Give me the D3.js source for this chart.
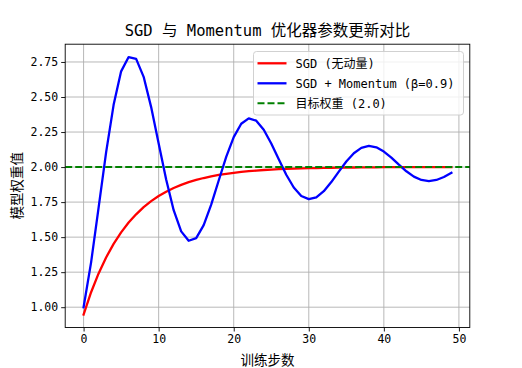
<!DOCTYPE html>
<html>
<head>
<meta charset="utf-8">
<script src="https://cdn.jsdelivr.net/npm/d3@7"></script>
<style>
    body { margin: 0; background: #fff; }
    text { font-family: "DejaVu Sans Mono", "Noto Sans CJK SC", sans-serif; fill: #000; }
</style>
</head>
<body>
<div id="chart"></div>
<script>
// values
var sgdValues = [0.947, 1.107, 1.241, 1.355, 1.452, 1.534, 1.604, 1.663, 1.714, 1.757,
    1.793, 1.824, 1.851, 1.873, 1.892, 1.908, 1.922, 1.934, 1.944, 1.952,
    1.959, 1.965, 1.971, 1.975, 1.979, 1.982, 1.985, 1.987, 1.989, 1.991,
    1.992, 1.993, 1.994, 1.995, 1.996, 1.997, 1.997, 1.998, 1.998, 1.998,
    1.999, 1.999, 1.999, 1.999, 1.999, 2.000, 2.000, 2.000, 2.000, 2.000];
var momentumValues = [1.000, 1.320, 1.710, 2.105, 2.444, 2.683, 2.785, 2.772, 2.644, 2.428,
    2.169, 1.911, 1.692, 1.541, 1.474, 1.493, 1.586, 1.732, 1.904, 2.073,
    2.214, 2.309, 2.348, 2.331, 2.266, 2.168, 2.055, 1.945, 1.854, 1.794,
    1.771, 1.784, 1.828, 1.893, 1.968, 2.040, 2.099, 2.137, 2.151, 2.141,
    2.111, 2.067, 2.017, 1.970, 1.932, 1.908, 1.900, 1.908, 1.929, 1.959];
var targetWeight = 2.0;
var xTicks = [0, 10, 20, 30, 40, 50];
var yTicks = [1.00, 1.25, 1.50, 1.75, 2.00, 2.25, 2.50, 2.75];
var seriesNames = ["SGD (无动量)", "SGD + Momentum (β=0.9)", "目标权重 (2.0)"];
var seriesColors = ["#ff0000", "#0000ff", "#008000"];
var titleText = "SGD 与 Momentum 优化器参数更新对比";
var xLabel = "训练步数";
var yLabel = "模型权重值";

var W = 522, H = 368;
var margin = {top: 44.2, right: 52.2, bottom: 40.5, left: 65.2},
    width = W - margin.left - margin.right,
    height = H - margin.top - margin.bottom;

var steps = d3.range(sgdValues.length);

// matplotlib style 5% padding around the data
var xExt = d3.extent(steps), xPad = (xExt[1] - xExt[0]) * 0.05;
var yExt = d3.extent(sgdValues.concat(momentumValues)), yPad = (yExt[1] - yExt[0]) * 0.05;

var x = d3.scaleLinear().domain([xExt[0] - xPad, xExt[1] + xPad]).range([0, width]);
var y = d3.scaleLinear().domain([yExt[0] - yPad, yExt[1] + yPad]).range([height, 0]);

var svg = d3.select("#chart").append("svg")
    .attr("width", W)
    .attr("height", H);

svg.append("rect").attr("width", W).attr("height", H).attr("fill", "#fff");

svg.append("defs").append("clipPath").attr("id", "plotClip")
    .append("rect").attr("width", width).attr("height", height);

var g = svg.append("g").attr("transform", "translate(" + margin.left + "," + margin.top + ")");

/* grid */
var grid = g.append("g").attr("class", "grid");
grid.selectAll("line.gx").data(xTicks).enter().append("line")
    .attr("x1", function (d) { return x(d); })
    .attr("x2", function (d) { return x(d); })
    .attr("y1", 0).attr("y2", height)
    .attr("stroke", "#b0b0b0").attr("stroke-width", 0.9);
grid.selectAll("line.gy").data(yTicks).enter().append("line")
    .attr("y1", function (d) { return y(d); })
    .attr("y2", function (d) { return y(d); })
    .attr("x1", 0).attr("x2", width)
    .attr("stroke", "#b0b0b0").attr("stroke-width", 0.9);

/* lines */
var line = d3.line()
    .x(function (d, i) { return x(i); })
    .y(function (d) { return y(d); });

var plot = g.append("g").attr("clip-path", "url(#plotClip)");

[sgdValues, momentumValues].forEach(function (vals, k) {
    plot.append("path")
        .datum(vals)
        .attr("d", line)
        .attr("fill", "none")
        .attr("stroke", seriesColors[k])
        .attr("stroke-width", 2.3)
        .attr("stroke-linejoin", "round")
        .attr("stroke-linecap", "square");
});

plot.append("line")
    .attr("x1", 0).attr("x2", width)
    .attr("y1", y(targetWeight)).attr("y2", y(targetWeight))
    .attr("stroke", seriesColors[2])
    .attr("stroke-width", 1.9)
    .attr("stroke-dasharray", "7,3");

/* axes */
var xAxis = g.append("g")
    .attr("transform", "translate(0," + height + ")")
    .call(d3.axisBottom(x).tickValues(xTicks).tickFormat(d3.format("d")).tickSizeInner(4).tickSizeOuter(0).tickPadding(3));
var yAxis = g.append("g")
    .call(d3.axisLeft(y).tickValues(yTicks).tickFormat(d3.format(".2f")).tickSizeInner(4).tickSizeOuter(0).tickPadding(3));

[xAxis, yAxis].forEach(function (a) {
    a.select(".domain").remove();
    a.selectAll(".tick line").attr("stroke", "#000").attr("stroke-width", 0.9);
    a.selectAll(".tick text")
        .style("font-family", '"DejaVu Sans Mono", "Noto Sans CJK SC", sans-serif')
        .style("font-size", "11.5px");
});

g.append("rect")
    .attr("width", width).attr("height", height)
    .attr("fill", "none").attr("stroke", "#000").attr("stroke-width", 0.9);

/* title and labels */
svg.append("text")
    .attr("x", margin.left + width / 2).attr("y", 36)
    .attr("text-anchor", "middle")
    .style("font-size", "15.5px")
    .text(titleText);

svg.append("text")
    .attr("x", margin.left + width / 2).attr("y", 365)
    .attr("text-anchor", "middle")
    .style("font-size", "13.5px")
    .text(xLabel);

svg.append("text")
    .attr("transform", "translate(22," + (margin.top + height / 2) + ") rotate(-90)")
    .attr("text-anchor", "middle")
    .style("font-size", "13.5px")
    .text(yLabel);

/* legend */
var legend = svg.append("g").attr("transform", "translate(253.5,51.5)");
legend.append("rect")
    .attr("width", 210).attr("height", 63.5)
    .attr("rx", 3)
    .attr("fill", "#fff").attr("fill-opacity", 0.8)
    .attr("stroke", "#cccccc").attr("stroke-width", 0.9);

var rows = legend.selectAll("g.row").data(seriesNames).enter().append("g")
    .attr("class", "row")
    .attr("transform", function (d, i) { return "translate(0," + (11.8 + i * 20) + ")"; });

rows.append("line")
    .attr("x1", 4).attr("x2", 33)
    .attr("stroke", function (d, i) { return seriesColors[i]; })
    .attr("stroke-width", function (d, i) { return i === 2 ? 1.9 : 2.3; })
    .attr("stroke-dasharray", function (d, i) { return i === 2 ? "7,3" : null; });

rows.append("text")
    .attr("x", 42).attr("y", 0)
    .attr("dy", "0.36em")
    .style("font-size", "12px")
    .text(function (d) { return d; });
</script>
</body>
</html>
